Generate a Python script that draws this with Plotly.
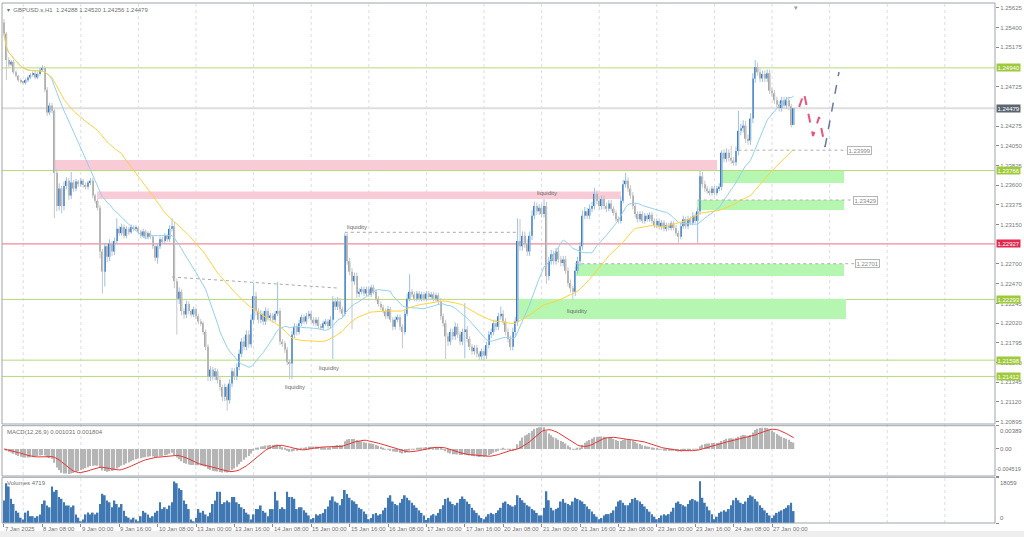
import numpy as np
import pandas as pd
import plotly.graph_objects as go

FONT = "Liberation Sans, Arial, sans-serif"

# ---------------- data ----------------
first_open = 1.2546
close = [
    1.2533,1.2503,1.2498,1.2501,1.2489,1.2485,1.2480,1.2478,1.2477,1.2480,
    1.2483,1.2486,1.2488,1.2483,1.2487,1.2492,1.2494,1.2469,1.2443,1.2451,
    1.2445,1.2374,1.2336,1.2356,1.2336,1.2359,1.2365,1.2348,1.2363,1.2356,
    1.2364,1.2361,1.2365,1.2360,1.2358,1.2363,1.2365,1.2348,1.2342,1.2334,
    1.2284,1.2261,1.2290,1.2278,1.2293,1.2284,1.2296,1.2310,1.2305,1.2312,
    1.2302,1.2310,1.2306,1.2312,1.2310,1.2311,1.2307,1.2302,1.2307,1.2301,
    1.2305,1.2301,1.2290,1.2277,1.2290,1.2298,1.2296,1.2302,1.2298,1.2310,
    1.2313,1.2250,1.2230,1.2238,1.2216,1.2212,1.2224,1.2216,1.2212,1.2218,
    1.2210,1.2204,1.2202,1.2192,1.2175,1.2141,1.2149,1.2141,1.2147,1.2137,
    1.2129,1.2118,1.2129,1.2114,1.2133,1.2147,1.2141,1.2152,1.2167,1.2181,
    1.2175,1.2189,1.2178,1.2206,1.2233,1.2216,1.2206,1.2213,1.2204,1.2216,
    1.2208,1.2211,1.2206,1.2213,1.2216,1.2181,1.2179,1.2172,1.2158,1.2156,
    1.2189,1.2198,1.2192,1.2202,1.2209,1.2204,1.2210,1.2213,1.2206,1.2202,
    1.2206,1.2199,1.2197,1.2202,1.2204,1.2199,1.2206,1.2227,1.2221,1.2227,
    1.2218,1.2213,1.2302,1.2273,1.2261,1.2250,1.2256,1.2236,1.2238,1.2241,
    1.2236,1.2241,1.2235,1.2243,1.2238,1.2230,1.2224,1.2220,1.2216,1.2210,
    1.2218,1.2206,1.2198,1.2206,1.2209,1.2198,1.2192,1.2213,1.2230,1.2238,
    1.2235,1.2230,1.2236,1.2230,1.2235,1.2230,1.2236,1.2232,1.2235,1.2230,
    1.2234,1.2227,1.2210,1.2202,1.2187,1.2181,1.2192,1.2187,1.2198,1.2189,
    1.2181,1.2192,1.2195,1.2184,1.2175,1.2170,1.2174,1.2167,1.2164,1.2170,
    1.2165,1.2177,1.2189,1.2192,1.2202,1.2198,1.2210,1.2213,1.2204,1.2192,
    1.2184,1.2175,1.2192,1.2204,1.2296,1.2290,1.2302,1.2293,1.2284,1.2302,
    1.2325,1.2336,1.2330,1.2334,1.2327,1.2336,1.2256,1.2273,1.2281,1.2273,
    1.2284,1.2275,1.2271,1.2275,1.2262,1.2248,1.2242,1.2238,1.2262,1.2273,
    1.2290,1.2325,1.2330,1.2325,1.2333,1.2336,1.2350,1.2342,1.2336,1.2344,
    1.2336,1.2333,1.2339,1.2333,1.2328,1.2321,1.2319,1.2342,1.2361,1.2365,
    1.2356,1.2348,1.2336,1.2327,1.2321,1.2327,1.2319,1.2325,1.2321,1.2326,
    1.2319,1.2314,1.2319,1.2312,1.2317,1.2310,1.2314,1.2311,1.2316,1.2311,
    1.2305,1.2301,1.2313,1.2321,1.2313,1.2321,1.2317,1.2325,1.2319,1.2330,
    1.2370,1.2361,1.2356,1.2353,1.2351,1.2356,1.2351,1.2356,1.2358,1.2397,
    1.2390,1.2397,1.2391,1.2388,1.2386,1.2399,1.2422,1.2425,1.2428,1.2413,
    1.2411,1.2436,1.2482,1.2495,1.2489,1.2482,1.2487,1.2482,1.2488,1.2468,
    1.2465,1.2457,1.2452,1.2448,1.2457,1.2451,1.2457,1.2450,1.24288,1.24479,
]
upper_wick_pips = [
    4,2,3,2,2,2,1,2,1,2, 2,2,2,3,2,2,3,2,3,3, 3,2,4,6,3,5,4,3,12,3, 3,2,3,2,3,2,3,3,2,2,
    3,3,4,3,5,3,4,12,3,4, 3,3,2,3,2,3,2,2,3,2, 2,3,2,2,3,3,3,3,2,4, 9,5,3,5,3,3,4,3,2,3,
    2,3,3,2,3,3,4,3,4,3, 3,3,4,3,5,4,4,4,5,4, 6,5,5,6,15,5,3,4,3,4, 3,3,3,3,33,3,3,3,3,3,
    4,4,3,4,3,3,4,3,3,3, 3,3,2,3,3,3,4,6,4,5, 4,3,3,3,4,4,4,4,4,3, 3,3,3,3,3,3,3,3,3,3,
    4,3,3,4,3,3,3,5,6,20, 3,3,3,3,3,3,3,3,3,3, 3,3,4,3,4,4,4,4,5,4, 4,4,30,4,3,3,3,3,3,3,
    3,4,4,4,4,4,4,8,4,4, 4,4,5,5,26,25,5,5,5,5, 6,5,4,4,4,8,5,5,5,4, 4,4,4,4,4,4,4,3,5,5,
    5,6,5,4,5,5,7,4,4,4, 4,4,4,4,3,3,3,5,5,9, 4,4,4,3,3,3,3,3,3,3, 3,3,3,3,3,3,3,3,3,3,
    3,3,4,4,3,4,3,4,3,4, 6,5,4,3,3,3,3,3,4,3, 4,5,4,14,4,5,23,5,6,5, 5,6,6,8,5,4,4,4,4,4,
    4,4,4,4,4,4,4,4,3,0.41,
]
lower_wick_pips = [
    3,23,3,2,2,2,2,2,2,2, 2,2,2,2,2,2,2,3,4,3, 3,52,6,5,8,5,4,5,4,4, 3,3,3,3,3,3,3,3,3,3,
    8,25,17,6,5,5,4,3,3,3, 3,3,3,2,3,2,3,3,2,3, 3,3,3,4,7,3,3,3,3,3, 3,8,41,6,5,5,4,4,3,3,
    3,3,3,3,4,5,5,4,4,4, 4,5,5,12,4,4,4,4,4,4, 4,4,4,4,5,5,4,4,4,4, 3,3,3,3,3,4,4,4,4,18,
    18,4,4,3,3,3,3,3,3,3, 3,3,3,3,3,3,3,45,4,4, 4,4,3,4,4,55,4,5,4,3, 3,3,3,3,3,3,3,3,3,3,
    3,3,4,3,3,4,19,3,3,3, 3,3,3,3,3,3,3,3,3,3, 3,4,4,4,26,5,4,4,4,4, 4,4,30,4,4,4,4,4,4,4,
    6,4,4,4,4,4,4,4,4,4, 4,4,4,5,5,5,5,5,5,5, 5,4,4,4,4,4,9,5,4,4, 4,4,4,4,4,4,5,9,5,4,
    5,4,4,4,4,4,4,4,4,4, 4,4,3,3,3,3,3,3,3,4, 4,4,4,4,4,3,3,3,3,3, 3,3,3,3,3,3,3,3,3,3,
    3,7,3,3,3,3,3,3,3,25, 4,4,4,3,3,3,3,3,3,4, 4,4,4,4,4,4,5,5,5,5, 5,5,5,5,4,4,4,4,4,4,
    4,4,4,4,4,4,4,4,3,0.32,
]
volume = [
    8900,15750,14400,9600,7500,4800,4100,2100,1400,4100,
    4800,2700,2700,2100,2700,3400,7500,8900,6900,6200,
    14400,12300,13000,10300,9600,8200,6900,6900,6200,6900,
    3400,2100,700,1400,3400,4100,3400,4100,3400,4100,
    7500,11600,11000,8900,8200,6200,8900,7500,6200,7500,
    4800,2700,2100,1400,2100,1400,400,2700,4800,4100,
    3400,2100,2700,4100,4800,8200,5500,6200,5500,6900,
    8200,16400,15750,13700,13000,8900,7500,5500,1400,700,
    2100,5500,4100,4800,3400,2700,4100,7500,8900,12300,
    12300,7500,8200,8900,8200,10300,10300,8200,7500,6200,
    5500,4100,3400,1400,3400,5500,5500,6900,4800,4100,
    2700,5500,5500,12300,8900,5500,6200,5500,12300,10300,
    10300,9600,5500,6200,
    6200,5000,4100,3000,
    1500,2000,3500,3000,3500,4000,5500,6500,9000,10500,8500,8000,7000,9500,13000,11500,10000,9000,8500,7500,6000,5500,4500,3500,
    1500,2000,3500,4000,3000,3500,5000,6000,10000,11000,8500,7500,7000,8000,9500,11000,10000,9000,8000,7000,6000,5000,4000,3000,
    1200,2000,3000,3500,3000,4000,5500,7000,9500,10000,8500,7500,7000,8000,9500,10500,9500,8500,7500,6000,5000,4000,3000,2000,
    1500,2500,3500,4000,3500,4000,5000,6000,8000,8500,7500,7000,6500,7000,11000,10000,9000,8000,7000,6500,5500,5000,4000,3000,
    3000,6000,12500,9000,6000,5000,5500,6000,8500,9500,8000,7500,7000,8500,10000,9500,9000,8500,7500,6500,5500,4500,3500,2500,
    1500,2000,3000,3500,3500,4000,5000,6500,8500,9000,8000,7000,7000,8000,9500,10000,9000,8500,7500,6500,5500,4500,3500,2500,
    1500,2000,3000,3500,3000,3500,4500,6000,8000,8500,7500,7000,6500,7500,9000,9500,9000,8500,16500,10000,8000,6500,5000,3500,
    1500,2500,4000,4500,5000,4500,5500,7000,9000,10000,9000,8000,7500,8500,10000,11000,10500,9500,8500,7000,6000,5000,4000,3000,
    2000,3000,4000,4500,5000,5500,6000,7000,8000,4719,
]
assert len(close) == len(upper_wick_pips) == len(lower_wick_pips) == len(volume), (
    len(close), len(upper_wick_pips), len(lower_wick_pips), len(volume))

x_label_text = ["7 Jan 2025", "8 Jan 08:00", "9 Jan 00:00", "9 Jan 16:00", "10 Jan 08:00",
                "13 Jan 00:00", "13 Jan 16:00", "14 Jan 08:00", "15 Jan 00:00", "15 Jan 16:00",
                "16 Jan 08:00", "17 Jan 00:00", "17 Jan 16:00", "20 Jan 08:00", "21 Jan 00:00",
                "21 Jan 16:00", "22 Jan 08:00", "23 Jan 00:00", "23 Jan 16:00", "24 Jan 08:00",
                "27 Jan 00:00"]
x_label_bars = [16 * k for k in range(len(x_label_text))]
day_start_bars = [8, 32, 56, 80, 104, 128, 152, 176, 200, 224, 248, 272, 296, 320, 344, 368, 392]

# price scale labels visible in the reference (those fully hidden under level boxes omitted)
price_ticks = [1.25625, 1.25400, 1.25175, 1.24725, 1.24275, 1.24050, 1.23825,
               1.23600, 1.23375, 1.23150, 1.22700, 1.22470, 1.22245, 1.22020, 1.21795,
               1.21570, 1.21345, 1.21120, 1.20895]

green_levels = [1.24940, 1.23766, 1.22293, 1.21598, 1.21412]
red_level = 1.22927
bid_level = 1.24479

# zones: (start bar, end bar, low price, high price)
pink_zones = [(20.4, 297.1, 1.23773, 1.23887), (38.8, 257.0, 1.23441, 1.23527)]
green_zones = [(299.2, 350.0, 1.23624, 1.23761), (288.8, 350.0, 1.23315, 1.23430),
               (238.0, 350.0, 1.22561, 1.22698), (214.6, 350.8, 1.22069, 1.22298)]

marked_levels = [1.23999, 1.23429, 1.22701]
marked_from = [306, 289, 238]
marked_label_bar = [351.3, 353.8, 354.6]

liq_bars = [221.3, 142.1, 130.4, 116.3, 233.8]
liq_prices = [1.23510, 1.23121, 1.21509, 1.21292, 1.22161]

liq_line_h = ([142, 214], [1.23060, 1.23060])
liq_line_slope = ([70, 139], [1.22549, 1.22423])

fc_pink_bars = [331.3, 333.3, 337.1, 339.6, 342.1]
fc_pink_prices = [1.24493, 1.24653, 1.24161, 1.24379, 1.24036]
fc_blue_bars = [342.1, 347.9]
fc_blue_prices = [1.24036, 1.24893]

macd_top, macd_bottom = 0.00389, -0.004519
vol_top = 18059

# ---------------- derived ----------------
n = len(close)
idx = np.arange(n)
c = np.array(close)
o = np.array([first_open] + close[:-1])
hi = np.maximum(o, c) + np.array(upper_wick_pips) * 1e-4
lo = np.minimum(o, c) - np.array(lower_wick_pips) * 1e-4
up = c >= o

s = pd.Series(c)
ma_fast = s.rolling(20, min_periods=1).mean()
ma_slow = s.rolling(50, min_periods=1).mean()
macd = s.ewm(span=12, adjust=False).mean() - s.ewm(span=26, adjust=False).mean()
signal = macd.rolling(9, min_periods=1).mean()

BLUE = "#3b78bd"
GRAY = "#a7a7a7"
BLUE_W = "#9cc1e6"
GRAY_W = "#c6c6c6"

fig = go.Figure()

def wick_trace(mask, color):
    xs, ys = [], []
    for i in idx[mask]:
        xs += [i, i, None]
        ys += [lo[i], hi[i], None]
    return go.Scatter(x=xs, y=ys, mode="lines", line=dict(color=color, width=1),
                      hoverinfo="skip", xaxis="x", yaxis="y")

fig.add_trace(wick_trace(up, BLUE_W))
fig.add_trace(wick_trace(~up, GRAY_W))
body = np.maximum(np.abs(c - o), 0.00005)
fig.add_trace(go.Bar(x=idx, y=body, base=np.minimum(o, c), width=0.62,
                     marker=dict(color=[BLUE if u else GRAY for u in up], line=dict(width=0)),
                     xaxis="x", yaxis="y", hoverinfo="skip"))
fig.add_trace(go.Scatter(x=idx, y=ma_fast, mode="lines", line=dict(color="#93d0f0", width=1),
                         xaxis="x", yaxis="y", hoverinfo="skip"))
fig.add_trace(go.Scatter(x=idx, y=ma_slow, mode="lines", line=dict(color="#ffd23c", width=1),
                         xaxis="x", yaxis="y", hoverinfo="skip"))

# forecast path
fig.add_trace(go.Scatter(x=fc_pink_bars, y=fc_pink_prices, mode="lines",
                         line=dict(color="#e8557e", width=2, dash="dash"), xaxis="x", yaxis="y"))
fig.add_trace(go.Scatter(x=fc_blue_bars, y=fc_blue_prices, mode="lines",
                         line=dict(color="#6878a0", width=1.5, dash="dash"), xaxis="x", yaxis="y"))
# liquidity dotted lines
for xs, ys in (liq_line_h, liq_line_slope):
    fig.add_trace(go.Scatter(x=xs, y=ys, mode="lines", line=dict(color="#a8a8a8", width=1, dash="dot"),
                             xaxis="x", yaxis="y"))
for lv, b0, b1 in zip(marked_levels, marked_from, marked_label_bar):
    fig.add_trace(go.Scatter(x=[b0, b1], y=[lv, lv], mode="lines",
                             line=dict(color="#b0b0b0", width=1, dash="dot"), xaxis="x", yaxis="y"))

# MACD
fig.add_trace(go.Bar(x=idx, y=macd, width=0.55, marker=dict(color="#b5b5b5", line=dict(width=0)),
                     xaxis="x2", yaxis="y2", hoverinfo="skip"))
fig.add_trace(go.Scatter(x=idx, y=signal, mode="lines", line=dict(color="#e83535", width=1),
                         xaxis="x2", yaxis="y2", hoverinfo="skip"))
# Volumes
fig.add_trace(go.Bar(x=idx, y=volume, width=0.72, marker=dict(color="#4078b4", line=dict(width=0)),
                     xaxis="x3", yaxis="y3", hoverinfo="skip"))

# ---------------- layout ----------------
H_TOP, H_BOT, PH = 3, 14, 520
def fy(py):
    return (537 - H_BOT - py) / PH

main_dom = [fy(424), 1.0]
macd_dom = [fy(476), fy(425.7)]
vol_dom = [0.0, fy(477.3)]
xr = [-0.83, 412.9]

shapes = []
for b in day_start_bars:
    shapes.append(dict(type="line", xref="x", yref="paper", x0=b, x1=b, y0=0, y1=1,
                       line=dict(color="#d9dcec", width=1, dash="dot"), layer="below"))
for b0, b1, p0, p1 in pink_zones:
    shapes.append(dict(type="rect", xref="x", yref="y", x0=b0, x1=b1, y0=p0, y1=p1,
                       fillcolor="#f9cbd6", line=dict(width=0), layer="below"))
for b0, b1, p0, p1 in green_zones:
    shapes.append(dict(type="rect", xref="x", yref="y", x0=b0, x1=b1, y0=p0, y1=p1,
                       fillcolor="#b5f6b1", line=dict(width=0), layer="below"))
for lv in green_levels:
    shapes.append(dict(type="line", xref="paper", yref="y", x0=0, x1=1, y0=lv, y1=lv,
                       line=dict(color="#b9d878", width=1), layer="below"))
shapes.append(dict(type="line", xref="paper", yref="y", x0=0, x1=1, y0=red_level, y1=red_level,
                   line=dict(color="#f08a9c", width=1.2), layer="below"))
shapes.append(dict(type="line", xref="paper", yref="y", x0=0, x1=1, y0=bid_level, y1=bid_level,
                   line=dict(color="#dedede", width=2), layer="below"))
for d in (main_dom, macd_dom, vol_dom):
    shapes.append(dict(type="rect", xref="paper", yref="paper", x0=0, x1=1, y0=d[0], y1=d[1],
                       line=dict(color="#9ea4ab", width=1), fillcolor="rgba(0,0,0,0)"))
shapes.append(dict(type="rect", xref="paper", yref="paper", x0=-0.01, x1=1.04,
                   y0=fy(537), y1=fy(531), fillcolor="#eeeeee", line=dict(width=0)))

ann = []
small = dict(family=FONT, size=6, color="#707070")
ann.append(dict(xref="paper", yref="paper", x=0, y=1, xanchor="left", yanchor="top", xshift=3, yshift=-2,
                text="▾  GBPUSD.s,H1  1.24288 1.24520 1.24256 1.24479", showarrow=False, font=small))
ann.append(dict(xref="paper", yref="paper", x=0, y=macd_dom[1], xanchor="left", yanchor="top", xshift=3,
                yshift=-1, text="MACD(12,26,9) 0.001031 0.001804", showarrow=False, font=small))
ann.append(dict(xref="paper", yref="paper", x=0, y=vol_dom[1], xanchor="left", yanchor="top", xshift=3,
                yshift=-1, text="Volumes 4719", showarrow=False, font=small))
for b, t in zip(x_label_bars, x_label_text):
    ann.append(dict(xref="x3", yref="paper", x=b, y=0, xanchor="left", yanchor="top", yshift=-1,
                    xshift=-1, text=t, showarrow=False, font=small))
def rbox(y, yref, text, bg, fc="white", border=None):
    d = dict(xref="paper", x=1, xanchor="left", xshift=1, yref=yref, y=y, text=text, showarrow=False,
             bgcolor=bg, font=dict(family=FONT, size=6, color=fc), borderpad=0.5)
    if border:
        d.update(bordercolor=border, borderwidth=1)
    return d
for lv in green_levels:
    ann.append(rbox(lv, "y", "%.5f" % lv, "#9fc93c"))
ann.append(rbox(red_level, "y", "%.5f" % red_level, "#e3284f"))
ann.append(rbox(bid_level, "y", "%.5f" % bid_level, "#5c6670"))
for lv, lb in zip(marked_levels, marked_label_bar):
    ann.append(dict(xref="x", yref="y", x=lb, y=lv, xanchor="left", text="%.5f" % lv, showarrow=False,
                    bgcolor="white", bordercolor="#b5b5b5", borderwidth=1, borderpad=0.5,
                    font=dict(family=FONT, size=6, color="#888888")))
for b, p in zip(liq_bars, liq_prices):
    ann.append(dict(xref="x", yref="y", x=b, y=p, xanchor="left", text="liquidity", showarrow=False,
                    font=dict(family=FONT, size=6, color="#6a6a6a")))
ann.append(dict(xref="paper", yref="y2", x=1, y=macd_top, xanchor="left", yanchor="top", xshift=3,
                text="0.00389", showarrow=False, font=small))
ann.append(dict(xref="paper", yref="y2", x=1, y=0, xanchor="left", xshift=3,
                text="0.00", showarrow=False, font=small))
ann.append(dict(xref="paper", yref="y2", x=1, y=macd_bottom, xanchor="left", yanchor="bottom", xshift=-1,
                yshift=2, text="-0.004519", showarrow=False,
                font=dict(family=FONT, size=5.5, color="#707070")))
ann.append(dict(xref="paper", yref="y3", x=1, y=vol_top, xanchor="left", yanchor="top", xshift=3,
                yshift=-1, text="18059", showarrow=False, font=small))
ann.append(dict(xref="paper", yref="y3", x=1, y=0, xanchor="left", yanchor="bottom", xshift=3,
                text="0", showarrow=False, font=small))
ann.append(dict(xref="x", yref="paper", x=330, y=1, yanchor="top", yshift=1, text="▾", showarrow=False,
                font=dict(family=FONT, size=7, color="#9a9a9a")))

axis_common = dict(showgrid=False, zeroline=False, showline=False, fixedrange=True)
fig.update_layout(
    width=1024, height=537, autosize=False,
    margin=dict(l=2, r=29, t=H_TOP, b=H_BOT),
    paper_bgcolor="white", plot_bgcolor="white", showlegend=False,
    barmode="overlay", font=dict(family=FONT, size=6, color="#707070"),
    xaxis=dict(domain=[0, 1], anchor="y", range=xr, showticklabels=False, ticks="", **axis_common),
    xaxis2=dict(domain=[0, 1], anchor="y2", matches="x", showticklabels=False, ticks="", **axis_common),
    xaxis3=dict(domain=[0, 1], anchor="y3", matches="x", tickvals=x_label_bars, showticklabels=False,
                ticks="outside", ticklen=3, tickcolor="#8a8a8a", **axis_common),
    yaxis=dict(domain=main_dom, range=[1.20868, 1.25682], side="right", anchor="x",
               tickvals=price_ticks, ticktext=["%.5f" % v for v in price_ticks],
               ticks="outside", ticklen=3, tickcolor="#8a8a8a",
               tickfont=dict(family=FONT, size=6, color="#7a7a7a"), **axis_common),
    yaxis2=dict(domain=macd_dom, range=[macd_bottom, macd_top], side="right", anchor="x2",
                tickvals=[macd_top, 0, macd_bottom], showticklabels=False, ticks="outside", ticklen=3,
                tickcolor="#8a8a8a", **axis_common),
    yaxis3=dict(domain=vol_dom, range=[0, vol_top], side="right", anchor="x3",
                tickvals=[vol_top, 0], showticklabels=False, ticks="outside", ticklen=3,
                tickcolor="#8a8a8a", **axis_common),
    shapes=shapes, annotations=ann,
)
fig.write_html("out.html", config={"displayModeBar": False},
               post_script="document.body.style.margin='0';document.body.style.overflow='hidden';")
